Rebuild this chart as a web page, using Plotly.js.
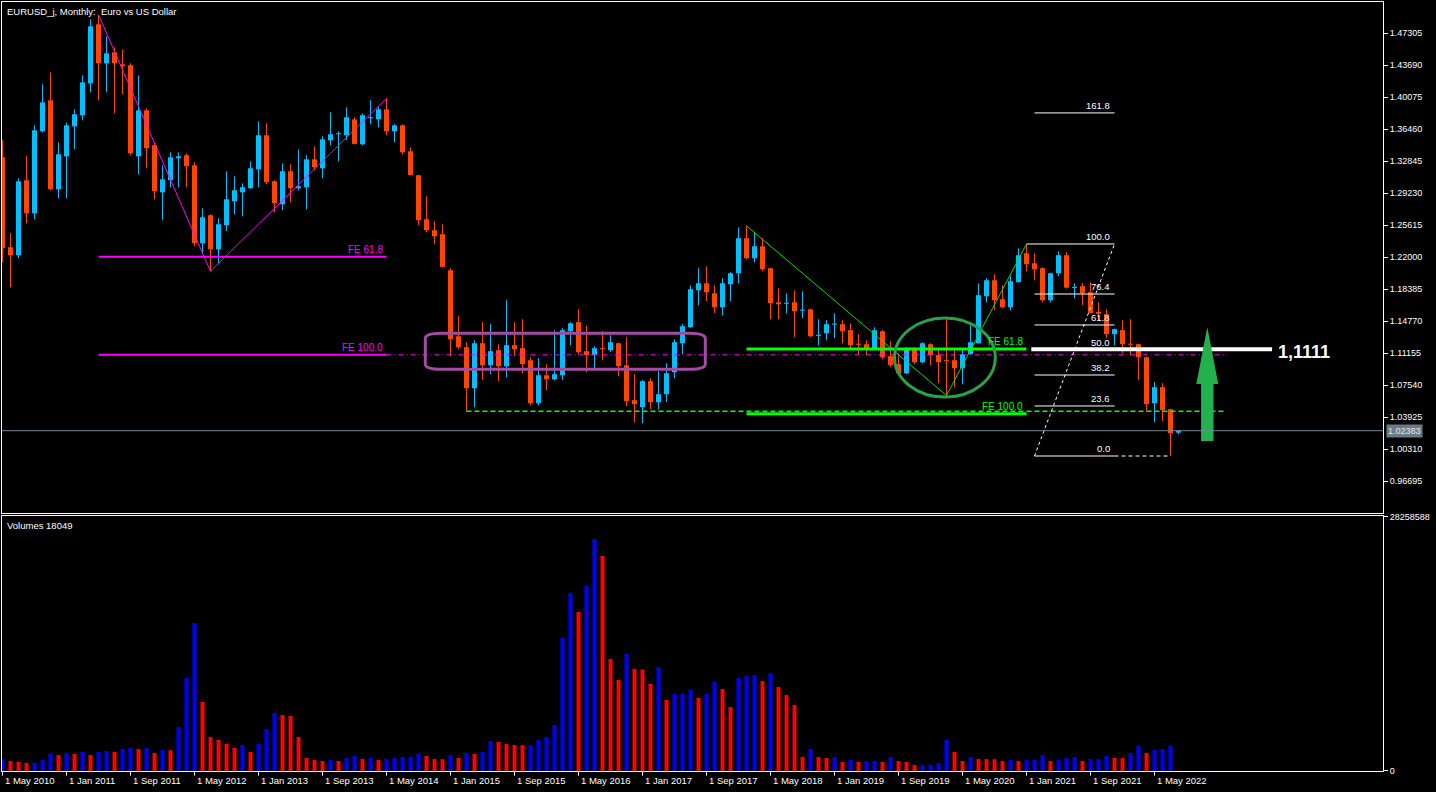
<!DOCTYPE html>
<html><head><meta charset="utf-8">
<script src="https://cdn.plot.ly/plotly-3.0.1.min.js"></script>
<style>html,body{margin:0;padding:0;background:#000;overflow:hidden}#chart{width:1436px;height:792px}</style>
</head><body><div id="chart"></div>
<script>
// ---------------- data ----------------
const chartTitle = "EURUSD_j, Monthly:\u00a0 Euro vs US Dollar";
const firstYear = 2010, firstMonth = 5; // first bar: May 2010, monthly bars
const open = [
1.3329,1.2312,1.2222,1.3069,1.2696,1.3623,1.3973,1.2967,1.3340,1.3679,
1.3804,1.4165,1.4832,1.4391,1.4515,1.4380,1.4369,1.3340,1.3860,1.3465,
1.2933,1.3069,1.3318,1.3352,1.3238,1.2357,1.2674,1.2289,1.2561,1.2832,
1.2933,1.2979,1.3193,1.3578,1.3058,1.2798,1.3171,1.2979,1.2990,1.3306,
1.3205,1.3521,1.3589,1.3578,1.3758,1.3476,1.3770,1.3758,1.3871,1.3623,
1.3690,1.3397,1.3126,1.2628,1.2504,1.2459,1.2052,1.1306,1.1182,1.0719,
1.1227,1.0978,1.1148,1.0967,1.1205,1.1171,1.1035,1.0549,1.0865,1.0820,
1.0865,1.1363,1.1465,1.1137,1.1092,1.1171,1.1148,1.1227,1.0978,1.0583,
1.0504,1.0798,1.0560,1.0651,1.0899,1.1227,1.1408,1.1826,1.1905,1.1792,
1.1634,1.1894,1.2018,1.2414,1.2188,1.2323,1.2075,1.1690,1.1673,1.1690,
1.1595,1.1611,1.1310,1.1340,1.1437,1.1442,1.1374,1.1216,1.1216,1.1159,
1.1363,1.1080,1.0990,1.0888,1.1159,1.1012,1.1216,1.1092,1.1035,1.1035,
1.0945,1.1103,1.1227,1.1758,1.1939,1.1724,1.1634,1.1917,1.2244,1.2131,
1.2075,1.1713,1.2018,1.2222,1.1852,1.1871,1.1803,1.1580,1.1555,1.1329,
1.1374,1.1222,1.1216,1.1069,1.0549,1.0730,1.0481,1.0216];
const high = [
1.3521,1.2470,1.3092,1.3340,1.3691,1.4154,1.4289,1.3498,1.3720,1.3871,
1.4256,1.4888,1.4940,1.4696,1.4572,1.4549,1.4391,1.4256,1.3883,1.3498,
1.3238,1.3385,1.3385,1.3374,1.3272,1.2753,1.2685,1.2640,1.3171,1.3114,
1.3035,1.3284,1.3736,1.3713,1.3069,1.3261,1.3250,1.3419,1.3352,1.3453,
1.3566,1.3837,1.3623,1.3894,1.3781,1.3826,1.3973,1.3905,1.3996,1.3702,
1.3702,1.3442,1.3130,1.2888,1.2606,1.2572,1.2075,1.1532,1.1238,1.1261,
1.1465,1.1442,1.1216,1.1713,1.1465,1.1498,1.1069,1.1057,1.0990,1.1374,
1.1397,1.1465,1.1611,1.1430,1.1193,1.1363,1.1318,1.1235,1.1295,1.0877,
1.0809,1.0831,1.0911,1.1001,1.1272,1.1442,1.1882,1.2075,1.2097,1.1882,
1.1962,1.2029,1.2538,1.2555,1.2481,1.2414,1.2080,1.1849,1.1792,1.1826,
1.1815,1.1615,1.1498,1.1487,1.1566,1.1487,1.1453,1.1329,1.1261,1.1408,
1.1374,1.1250,1.1114,1.1182,1.1182,1.1238,1.1227,1.1171,1.1521,1.1159,
1.1171,1.1430,1.1905,1.1962,1.2007,1.1882,1.1985,1.2301,1.2349,1.2244,
1.2086,1.2022,1.2267,1.2255,1.1905,1.1905,1.1917,1.1690,1.1611,1.1390,
1.1487,1.1498,1.1220,1.1072,1.0787,1.0775,1.0485,1.0244];
const low = [
1.2142,1.1860,1.2188,1.2583,1.2628,1.3611,1.2956,1.2866,1.2866,1.3419,
1.3747,1.4063,1.3973,1.4063,1.3826,1.4041,1.3352,1.3137,1.3205,1.2854,
1.2617,1.2990,1.2990,1.2990,1.2323,1.2244,1.2040,1.2120,1.2493,1.2685,
1.2662,1.2975,1.2990,1.3024,1.2707,1.2730,1.2820,1.2956,1.2741,1.3182,
1.3092,1.3465,1.3284,1.3521,1.3476,1.3465,1.3702,1.3668,1.3578,1.3498,
1.3363,1.3126,1.2561,1.2481,1.2346,1.2086,1.1080,1.1159,1.0457,1.0504,
1.0809,1.0877,1.0798,1.0843,1.1080,1.0888,1.0526,1.0526,1.0696,1.0809,
1.0809,1.1205,1.1103,1.0899,1.0933,1.1035,1.1126,1.0854,1.0515,1.0334,
1.0323,1.0481,1.0481,1.0560,1.0831,1.1103,1.1400,1.1658,1.1702,1.1566,
1.1544,1.1702,1.1905,1.2176,1.2142,1.2041,1.1498,1.1498,1.1566,1.1295,
1.1510,1.1295,1.1205,1.1261,1.1284,1.1227,1.1171,1.1103,1.1092,1.1155,
1.1046,1.0956,1.0865,1.0879,1.0990,1.1001,1.0978,1.0778,1.0636,1.0730,
1.0764,1.1100,1.1220,1.1690,1.1600,1.1622,1.1600,1.1917,1.2041,1.1939,
1.1690,1.1690,1.1985,1.1845,1.1735,1.1658,1.1566,1.1487,1.1284,1.1205,
1.1114,1.1092,1.0809,1.0459,1.0334,1.0346,0.9952,1.0199];
const close = [
1.2301,1.2222,1.3058,1.2696,1.3634,1.3950,1.2967,1.3363,1.3690,1.3815,
1.4176,1.4809,1.4391,1.4504,1.4391,1.4357,1.3374,1.3860,1.3431,1.2945,
1.3080,1.3329,1.3340,1.3227,1.2357,1.2651,1.2289,1.2572,1.2854,1.2956,
1.2990,1.3205,1.3578,1.3046,1.2809,1.3171,1.2979,1.3001,1.3306,1.3216,
1.3532,1.3589,1.3600,1.3781,1.3480,1.3804,1.3781,1.3871,1.3623,1.3690,
1.3385,1.3130,1.2617,1.2504,1.2436,1.2090,1.1272,1.1182,1.0719,1.1227,
1.0978,1.1137,1.0967,1.1205,1.1159,1.0990,1.0549,1.0865,1.0820,1.0877,
1.1374,1.1453,1.1126,1.1092,1.1171,1.1160,1.1238,1.0967,1.0572,1.0538,
1.0798,1.0560,1.0651,1.0888,1.1238,1.1419,1.1837,1.1905,1.1803,1.1634,
1.1905,1.2018,1.2414,1.2188,1.2323,1.2063,1.1679,1.1668,1.1679,1.1589,
1.1605,1.1306,1.1318,1.1442,1.1445,1.1363,1.1205,1.1210,1.1159,1.1374,
1.1069,1.0978,1.0888,1.1159,1.1012,1.1227,1.1092,1.1012,1.1024,1.0945,
1.1103,1.1238,1.1770,1.1939,1.1713,1.1634,1.1928,1.2222,1.2120,1.2063,
1.1713,1.2018,1.2222,1.1855,1.1860,1.1792,1.1570,1.1560,1.1329,1.1386,
1.1216,1.1210,1.1069,1.0538,1.0730,1.0470,1.0210,1.0238];
const volume = [
1335000,1113000,1001000,890000,923000,1224000,1891000,1780000,2003000,1891000,
2114000,1780000,2114000,2225000,2114000,2448000,2559000,2448000,2559000,2003000,
2336000,2314000,4895000,10347000,16466000,7677000,3783000,3449000,3004000,2559000,
2893000,2114000,3004000,4673000,6453000,6230000,6119000,3783000,1446000,1224000,
1113000,1224000,1113000,1446000,1669000,1335000,1446000,1224000,1335000,1446000,
1558000,1591000,1891000,1669000,1335000,1313000,1780000,1446000,2003000,1891000,
2114000,3338000,3226000,3004000,2893000,2870000,2893000,3449000,3783000,5118000,
14797000,19803000,17689000,20582000,25811000,23920000,12460000,10124000,13017000,11348000,
11292000,9679000,11570000,7899000,8567000,8600000,9012000,8122000,8567000,9902000,
9123000,7120000,10347000,10569000,10680000,10013000,10903000,9345000,8455000,7343000,
1558000,2448000,1558000,1446000,1558000,1001000,1224000,1001000,1113000,1135000,
1001000,1558000,1113000,1001000,668000,679000,690000,890000,3449000,2114000,
1113000,1558000,1335000,1324000,1313000,1113000,1224000,1113000,1224000,1235000,
1780000,1113000,1224000,1446000,1558000,1113000,1335000,1346000,1669000,1446000,
1435000,2003000,2781000,2003000,2336000,2448000,2781000,18049];
const currentPrice = 1.02383;
const volumeScaleMax = 28258588;
const priceTicks = [1.47305,1.43690,1.40075,1.36460,1.32845,1.29230,1.25615,1.22000,
                    1.18385,1.14770,1.11155,1.07540,1.03925,1.00310,0.96695];
const dateTickIdx = [0,8,16,24,32,40,48,56,64,72,80,88,96,104,112,120,128,136,144];
const dateTickLabels = ["1 May 2010","1 Jan 2011","1 Sep 2011","1 May 2012","1 Jan 2013",
  "1 Sep 2013","1 May 2014","1 Jan 2015","1 Sep 2015","1 May 2016","1 Jan 2017","1 Sep 2017",
  "1 May 2018","1 Jan 2019","1 Sep 2019","1 May 2020","1 Jan 2021","1 Sep 2021","1 May 2022"];
// drawn objects (anchored on bars)
const magZigIdx = [12, 26, 48];          // high - low - high
const greenZigIdx = [93, 118, 128];      // high - low - high
const feRatios = [0.618, 1.0];
const feLabels = ["FE 61.8", "FE 100.0"];
const supportIdx = 58;                   // Mar 2015 low, dashed green
const fibHighIdx = 128, fibLowIdx = 146;
const fibLevels = [0, 23.6, 38.2, 50, 61.8, 76.4, 100, 161.8];
const targetPrice = 1.1160, targetLabel = "1,1111";

// ---------------- geometry / styles ----------------
const BULL = '#00bfff', BEAR = '#ff4500';
const VUP = '#0000ff', VDN = '#ff0000';
const MAG = '#ff00ff', LIME = '#00ff00';
const FONT = 'Liberation Sans, Arial, sans-serif';
const xMin = -0.0625, xMax = xMin + 1381 / 8;
const priceRange = [0.93078, 1.50843];
const volTop = volumeScaleMax * 255 / 254;

const N = open.length;
const idx = open.map((_, i) => i);
const bullIdx = idx.filter(i => close[i] >= open[i]);
const bearIdx = idx.filter(i => close[i] < open[i]);
const minBody = 0.0012;

function bodyTrace(ids, color) {
  return {type:'bar', x: ids, base: ids.map(i => Math.min(open[i], close[i])),
    y: ids.map(i => Math.max(Math.abs(close[i] - open[i]), minBody)),
    width: 0.625, marker:{color, line:{width:0}}, xaxis:'x', yaxis:'y', hoverinfo:'skip'};
}
function wickTrace(ids, color) {
  const x = [], y = [];
  ids.forEach(i => { x.push(i, i, null); y.push(low[i], high[i], null); });
  return {type:'scatter', mode:'lines', x, y, line:{color, width:1}, xaxis:'x', yaxis:'y', hoverinfo:'skip'};
}
const zigPrices = ids => [high[ids[0]], low[ids[1]], high[ids[2]]];
const magP = zigPrices(magZigIdx), greenP = zigPrices(greenZigIdx);
const expansion = (p, r) => p[2] - (p[0] - p[1]) * r;

const volColors = volume.map((v, i) => (i === 0 || v > volume[i - 1]) ? VUP : VDN);

const traces = [
  wickTrace(bullIdx, BULL), wickTrace(bearIdx, BEAR),
  bodyTrace(bullIdx, BULL), bodyTrace(bearIdx, BEAR),
  {type:'scatter', mode:'lines', x: magZigIdx, y: magP, line:{color:MAG, width:1}, xaxis:'x', yaxis:'y', hoverinfo:'skip'},
  {type:'scatter', mode:'lines', x: greenZigIdx, y: greenP, line:{color:'#00e000', width:1}, xaxis:'x', yaxis:'y', hoverinfo:'skip'},
  {type:'bar', x: idx, y: volume, width: 0.5, marker:{color: volColors, line:{width:0}}, xaxis:'x2', yaxis:'y2', hoverinfo:'skip'}
];

const shapes = [];
const line = (x0, y0, x1, y1, color, width, dash, extra) =>
  shapes.push(Object.assign({type:'line', xref:'x', yref:'y', x0, y0, x1, y1, line:{color, width, dash: dash || 'solid'}}, extra || {}));

// dashed green support and magenta FE100 extension
line(supportIdx, low[supportIdx], 152.8, low[supportIdx], LIME, 1.5, '5px,3px');
line(magZigIdx[2], expansion(magP, 1.0), 153.1, expansion(magP, 1.0), MAG, 1, '5px,3px,1px,3px');
// magenta FE levels
feRatios.forEach(r => line(magZigIdx[0], expansion(magP, r), magZigIdx[2], expansion(magP, r), MAG, 2));
// green FE levels
feRatios.forEach(r => line(greenZigIdx[0], expansion(greenP, r), greenZigIdx[2], expansion(greenP, r), LIME, 3));

// purple rounded box around the range
(function(){
  const x0 = 52.85, x1 = 87.85, top = 1.1340, bot = 1.0933, rx = 2, ry = 0.006;
  const p = `M ${x0+rx},${top} L ${x1-rx},${top} Q ${x1},${top} ${x1},${top-ry} L ${x1},${bot+ry} Q ${x1},${bot} ${x1-rx},${bot} ` +
            `L ${x0+rx},${bot} Q ${x0},${bot} ${x0},${bot+ry} L ${x0},${top-ry} Q ${x0},${top} ${x0+rx},${top} Z`;
  shapes.push({type:'path', xref:'x', yref:'y', path:p, line:{color:'#a44ca4', width:3}});
})();
// green ellipse
shapes.push({type:'circle', xref:'x', yref:'y', x0:111.5, x1:124.1, y0:1.0618, y1:1.1511, line:{color:'#2aa048', width:3}});

// Fibonacci retracement
const fibH = high[fibHighIdx], fibL = low[fibLowIdx];
const fibPrice = lv => fibL + (fibH - fibL) * lv / 100;
const fibX0 = 129, fibX1 = 139;
fibLevels.forEach(lv => line(lv === 100 ? fibHighIdx : fibX0, fibPrice(lv), fibX1, fibPrice(lv), '#ffffff', 1));
line(fibX1, fibL, fibLowIdx, fibL, '#ffffff', 1, '4px,3px');
line(fibX0, fibL, fibX1, fibH, '#ffffff', 1, '3px,3px');

// target line
line(128.6, targetPrice, 158.7, targetPrice, '#ffffff', 4);
// green arrow
(function(){
  const c = 150.6, hw = 1.37, sw = 0.78, tip = 1.1409, base = 1.0765, bottom = 1.0121;
  const p = `M ${c},${tip} L ${c+hw},${base} L ${c+sw},${base} L ${c+sw},${bottom} L ${c-sw},${bottom} L ${c-sw},${base} L ${c-hw},${base} Z`;
  shapes.push({type:'path', xref:'x', yref:'y', path:p, fillcolor:'#22b14c', line:{color:'#22b14c', width:0}});
})();
// current price line
shapes.push({type:'line', xref:'paper', yref:'y', x0:0, x1:1, y0:currentPrice, y1:currentPrice, line:{color:'#778899', width:1}});
// date tick marks
dateTickIdx.forEach(i => shapes.push({type:'line', xref:'x2', yref:'paper', x0:i, x1:i, y0:0, y1:-0.006, line:{color:'#ffffff', width:1}}));

const annotations = [];
const txt = (o) => annotations.push(Object.assign({showarrow:false, font:{family:FONT, size:9.5, color:'#ffffff'}}, o));
txt({xref:'paper', yref:'paper', x:0, y:1, xanchor:'left', yanchor:'top', xshift:3, yshift:-2, text: chartTitle});
txt({xref:'paper', yref:'paper', x:0, y:0.3316, xanchor:'left', yanchor:'top', xshift:3, yshift:-2, text: 'Volumes ' + volume[N-1]});
feRatios.forEach((r, j) => {
  txt({xref:'x', yref:'y', x: magZigIdx[2], y: expansion(magP, r), xanchor:'right', yanchor:'bottom', xshift:-2, yshift:0,
       text: feLabels[j], font:{family:FONT, size:10, color:MAG}});
  txt({xref:'x', yref:'y', x: greenZigIdx[2], y: expansion(greenP, r), xanchor:'right', yanchor:'bottom', xshift:-2, yshift:0,
       text: feLabels[j], font:{family:FONT, size:10, color:LIME}});
});
fibLevels.forEach(lv => txt({xref:'x', yref:'y', x: fibX1 - 0.3, y: fibPrice(lv), xanchor:'right', yanchor:'bottom', yshift:0,
  text: lv.toFixed(1)}));
txt({xref:'x', yref:'y', x:159.2, y: targetPrice, xanchor:'left', yanchor:'middle', yshift:-3,
     text:'<b>' + targetLabel + '</b>', font:{family:FONT, size:18, color:'#ffffff'}});
txt({xref:'paper', yref:'y', x:1, y: currentPrice, xanchor:'left', yanchor:'middle', xshift:3,
     text: currentPrice.toFixed(5), bgcolor:'#6b7b8c', borderpad:1, font:{family:FONT, size:9, color:'#e8e8e8'}});
dateTickIdx.forEach((i, j) => txt({xref:'x2', yref:'paper', x:i, y:0, xanchor:'left', yanchor:'top', xshift:0, yshift:-2,
     text: dateTickLabels[j]}));

const axisCommon = {showgrid:false, zeroline:false, showline:true, mirror:true, linecolor:'#ffffff', linewidth:1};
const layout = {
  width:1436, height:792, paper_bgcolor:'#000000', plot_bgcolor:'#000000',
  margin:{l:2, r:53, t:2, b:21, pad:0}, showlegend:false, barmode:'overlay', hovermode:false,
  font:{family:FONT, size:9.5, color:'#ffffff'},
  xaxis: Object.assign({domain:[0,1], anchor:'y', range:[xMin, xMax], showticklabels:false, ticks:''}, axisCommon),
  xaxis2: Object.assign({domain:[0,1], anchor:'y2', range:[xMin, xMax], matches:'x', showticklabels:false, ticks:''}, axisCommon),
  yaxis: Object.assign({domain:[0.3355,1], anchor:'x', side:'right', range:priceRange, tickmode:'array',
    tickvals: priceTicks, ticktext: priceTicks.map(v => v.toFixed(5)), ticks:'outside', ticklen:4, tickcolor:'#ffffff',
    tickfont:{family:FONT, size:9, color:'#ffffff'}}, axisCommon),
  yaxis2: Object.assign({domain:[0,0.3316], anchor:'x2', side:'right', range:[0, volTop], tickmode:'array',
    tickvals:[0, volumeScaleMax], ticktext:['0', String(volumeScaleMax)], ticks:'outside', ticklen:4, tickcolor:'#ffffff',
    tickfont:{family:FONT, size:9, color:'#ffffff'}}, axisCommon),
  shapes, annotations
};
Plotly.newPlot('chart', traces, layout, {staticPlot:true, displayModeBar:false});
</script>
</body></html>
